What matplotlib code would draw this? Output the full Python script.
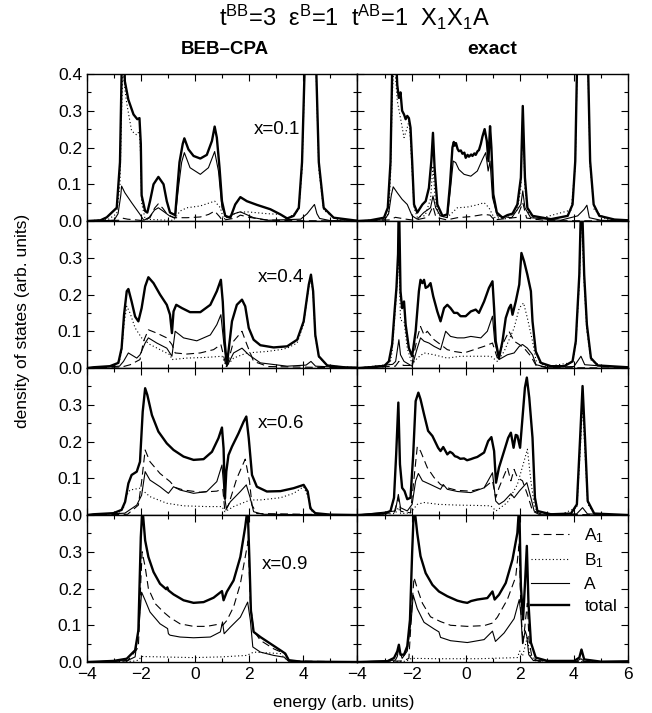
import numpy as np
import matplotlib

matplotlib.use("Agg")
import matplotlib.pyplot as plt
from matplotlib.lines import Line2D
from matplotlib.ticker import FuncFormatter, MultipleLocator

plt.rcParams["font.family"] = ["Liberation Sans", "DejaVu Sans"]
plt.rcParams["mathtext.fontset"] = "custom"
plt.rcParams["mathtext.rm"] = "Liberation Sans"
plt.rcParams["mathtext.it"] = "Liberation Sans:italic"
plt.rcParams["mathtext.bf"] = "Liberation Sans:bold"

# ---- data: (energy, density of states) ----
concentrations = ["x=0.1", "x=0.4", "x=0.6", "x=0.9"]
legend_labels = ["A$_1$", "B$_1$", "A", "total"]

# BEB-CPA, x=0.1
beb_x01_A1 = [(-4, 0), (-2.8, 0.002), (-2.7, 0.008), (-2.5, 0.005), (-1.9, 0.001), (-1.67, 0.009), (-1.5, 0.035),
              (-1.36, 0.047), (-1.2, 0.035), (-1.05, 0.02), (-0.8, 0.009), (-0.3, 0.009), (0.19, 0.011), (0.5, 0.018),
              (0.72, 0.027), (0.9, 0.012), (1.0, 0.002), (1.5, 0.008), (1.67, 0.016), (2.0, 0.01), (2.6, 0.003),
              (3.5, 0.001), (6, 0)]
beb_x01_B1 = [(-4, 0), (-3.2, 0.005), (-2.9, 0.02), (-2.78, 0.1), (-2.72, 0.3), (-2.67, 0.42), (-2.6, 0.36),
              (-2.53, 0.32), (-2.35, 0.245), (-2.16, 0.234), (-2.06, 0.245), (-2.01, 0.17), (-1.98, 0.05),
              (-1.85, 0.005), (-1.3, 0.003), (-0.8, 0.002), (-0.56, 0.027), (-0.31, 0.036), (0.19, 0.041),
              (0.72, 0.054), (0.93, 0.036), (1.05, 0.005), (1.54, 0.023), (1.91, 0.025), (2.65, 0.02), (3.15, 0.018),
              (3.4, 0.005), (3.83, 0.03), (3.95, 0.14), (4.04, 0.38), (4.15, 0.85), (4.26, 1.4), (4.37, 0.85),
              (4.48, 0.38), (4.57, 0.14), (4.75, 0.03), (5.2, 0.005), (6, 0)]
beb_x01_A = [(-4, 0), (-3.0, 0.002), (-2.85, 0.02), (-2.75, 0.07), (-2.72, 0.095), (-2.6, 0.077), (-2.35, 0.05),
             (-2.04, 0.018), (-1.9, 0.002), (-1.7, 0.01), (-1.5, 0.03), (-1.36, 0.036), (-1.15, 0.025), (-0.93, 0.013),
             (-0.74, 0.009), (-0.62, 0.09), (-0.5, 0.16), (-0.4, 0.186), (-0.19, 0.145), (0.19, 0.127), (0.49, 0.145),
             (0.72, 0.189), (0.86, 0.136), (0.99, 0.036), (1.17, 0.009), (1.45, 0.02), (1.67, 0.025), (2.16, 0.009),
             (2.7, 0.002), (3.9, 0.005), (4.14, 0.02), (4.3, 0.035), (4.41, 0.045), (4.5, 0.02), (4.6, 0.007),
             (5.0, 0.001), (6, 0)]
beb_x01_tot = [(-4, 0), (-3.5, 0.002), (-3.27, 0.01), (-2.9, 0.036), (-2.78, 0.16), (-2.72, 0.4), (-2.67, 0.6),
               (-2.6, 0.38), (-2.47, 0.33), (-2.28, 0.29), (-2.14, 0.277), (-2.06, 0.28), (-2.01, 0.21),
               (-1.98, 0.07), (-1.85, 0.027), (-1.77, 0.023), (-1.67, 0.054), (-1.54, 0.1), (-1.36, 0.12),
               (-1.17, 0.1), (-1.05, 0.054), (-0.93, 0.023), (-0.74, 0.016), (-0.68, 0.07), (-0.58, 0.16),
               (-0.46, 0.21), (-0.4, 0.225), (-0.25, 0.195), (-0.06, 0.177), (0.19, 0.17), (0.43, 0.18),
               (0.62, 0.218), (0.72, 0.257), (0.8, 0.227), (0.9, 0.145), (0.99, 0.054), (1.11, 0.014), (1.3, 0.009),
               (1.48, 0.045), (1.67, 0.065), (1.91, 0.054), (2.28, 0.044), (2.78, 0.032), (3.15, 0.018),
               (3.4, 0.007), (3.64, 0.014), (3.83, 0.036), (3.95, 0.16), (4.04, 0.4), (4.15, 0.9), (4.26, 1.5),
               (4.37, 0.9), (4.48, 0.4), (4.57, 0.16), (4.75, 0.036), (5.12, 0.009), (5.86, 0.002), (6, 0.001)]

# exact, x=0.1
ex_x01_A1 = [(-4, 0), (-2.8, 0.003), (-2.6, 0.01), (-2.2, 0.005), (-1.9, 0.002), (-1.4, 0.01), (-1.21, 0.04),
             (-1.1, 0.01), (-0.7, 0.003), (-0.31, 0.009), (0.19, 0.012), (0.68, 0.018), (0.9, 0.016), (1.05, 0.003),
             (1.9, 0.01), (2.11, 0.05), (2.25, 0.008), (3.0, 0.001), (6, 0)]
ex_x01_B1 = [(-4, 0), (-3.0, 0.005), (-2.85, 0.02), (-2.78, 0.12), (-2.72, 0.33), (-2.66, 0.42), (-2.6, 0.4),
             (-2.53, 0.327), (-2.41, 0.28), (-2.28, 0.227), (-2.16, 0.254), (-2.1, 0.272), (-2.04, 0.22),
             (-1.98, 0.136), (-1.91, 0.036), (-1.79, 0.01), (-1.5, 0.015), (-1.3, 0.06), (-1.21, 0.15),
             (-1.13, 0.06), (-1.0, 0.015), (-0.7, 0.01), (-0.56, 0.018), (-0.31, 0.036), (0.06, 0.038),
             (0.43, 0.044), (0.68, 0.05), (0.86, 0.036), (1.04, 0.01), (1.5, 0.006), (1.91, 0.03), (2.04, 0.09),
             (2.11, 0.3), (2.19, 0.09), (2.3, 0.025), (2.6, 0.004), (3.9, 0.03), (4.05, 0.15), (4.11, 0.38),
             (4.2, 0.85), (4.32, 1.3), (4.44, 0.85), (4.53, 0.38), (4.6, 0.15), (4.75, 0.03), (5.2, 0.004), (6, 0)]
ex_x01_A = [(-4, 0), (-3.0, 0.003), (-2.85, 0.02), (-2.75, 0.07), (-2.68, 0.093), (-2.53, 0.077), (-2.35, 0.059),
            (-2.16, 0.045), (-1.98, 0.014), (-1.79, 0.005), (-1.55, 0.023), (-1.3, 0.036), (-1.21, 0.068),
            (-1.11, 0.036), (-0.93, 0.014), (-0.68, 0.009), (-0.56, 0.09), (-0.46, 0.163), (-0.37, 0.159),
            (-0.25, 0.14), (-0.06, 0.127), (0.19, 0.122), (0.43, 0.136), (0.62, 0.168), (0.74, 0.186),
            (0.83, 0.136), (0.9, 0.163), (0.99, 0.064), (1.17, 0.014), (1.7, 0.009), (2.04, 0.045), (2.11, 0.082),
            (2.19, 0.036), (2.4, 0.009), (3.5, 0.002), (4.14, 0.014), (4.38, 0.032), (4.48, 0.043), (4.57, 0.009),
            (5.0, 0.002), (6, 0)]
ex_x01_tot = [(-4, 0), (-3.52, 0.002), (-3.02, 0.009), (-2.88, 0.036), (-2.78, 0.16), (-2.72, 0.4), (-2.68, 0.55),
              (-2.64, 0.45), (-2.6, 0.5), (-2.56, 0.42), (-2.53, 0.37), (-2.47, 0.335), (-2.41, 0.35),
              (-2.35, 0.3), (-2.28, 0.29), (-2.22, 0.277), (-2.16, 0.286), (-2.1, 0.28), (-2.04, 0.254),
              (-1.98, 0.163), (-1.91, 0.045), (-1.79, 0.023), (-1.6, 0.045), (-1.48, 0.054), (-1.36, 0.09),
              (-1.27, 0.163), (-1.21, 0.24), (-1.15, 0.145), (-1.05, 0.045), (-0.86, 0.014), (-0.68, 0.018),
              (-0.58, 0.1), (-0.49, 0.2), (-0.44, 0.215), (-0.41, 0.205), (-0.36, 0.212), (-0.3, 0.196),
              (-0.25, 0.19), (-0.18, 0.192), (-0.12, 0.183), (-0.05, 0.186), (0.0, 0.172), (0.07, 0.18),
              (0.12, 0.175), (0.2, 0.181), (0.25, 0.177), (0.32, 0.184), (0.37, 0.18), (0.44, 0.19), (0.49, 0.193),
              (0.56, 0.21), (0.62, 0.23), (0.7, 0.25), (0.78, 0.218), (0.84, 0.163), (0.9, 0.258), (0.95, 0.2),
              (1.02, 0.073), (1.15, 0.023), (1.36, 0.009), (1.54, 0.016), (1.73, 0.02), (1.91, 0.045),
              (2.04, 0.118), (2.11, 0.313), (2.19, 0.118), (2.28, 0.036), (2.47, 0.014), (3.15, 0.005),
              (3.77, 0.014), (3.95, 0.045), (4.05, 0.163), (4.11, 0.4), (4.2, 0.9), (4.32, 1.4), (4.44, 0.9),
              (4.53, 0.4), (4.6, 0.163), (4.73, 0.045), (4.94, 0.014), (5.5, 0.004), (6, 0.002)]

# BEB-CPA, x=0.4
beb_x04_A1 = [(-4, 0), (-2.7, 0.003), (-2.4, 0.009), (-2.04, 0.023), (-1.91, 0.073), (-1.73, 0.104),
              (-1.42, 0.095), (-1.05, 0.082), (-0.86, 0.064), (-0.74, 0.041), (-0.31, 0.038), (0.19, 0.041),
              (0.68, 0.05), (0.95, 0.064), (1.1, 0.018), (1.17, 0.004), (1.42, 0.073), (1.73, 0.1), (1.91, 0.064),
              (2.16, 0.018), (2.7, 0.004), (6, 0)]
beb_x04_B1 = [(-4, 0), (-3.0, 0.005), (-2.8, 0.02), (-2.72, 0.045), (-2.63, 0.12), (-2.53, 0.168), (-2.41, 0.15),
              (-2.22, 0.109), (-1.98, 0.082), (-1.67, 0.064), (-1.3, 0.05), (-0.93, 0.036), (-0.86, 0.023),
              (-0.31, 0.027), (0.43, 0.029), (0.99, 0.032), (1.15, 0.004), (1.42, 0.027), (1.91, 0.041),
              (2.65, 0.045), (3.15, 0.05), (3.4, 0.054), (3.77, 0.068), (4.01, 0.12), (4.2, 0.22), (4.28, 0.245),
              (4.36, 0.2), (4.44, 0.085), (4.57, 0.03), (4.9, 0.006), (6, 0.001)]
beb_x04_A = [(-4, 0), (-2.8, 0.005), (-2.65, 0.018), (-2.47, 0.041), (-2.16, 0.027), (-2.04, 0.036),
             (-1.85, 0.068), (-1.73, 0.082), (-1.42, 0.068), (-1.05, 0.054), (-0.86, 0.032), (-0.74, 0.1),
             (-0.43, 0.082), (0.06, 0.074), (0.56, 0.09), (0.8, 0.118), (0.95, 0.145), (1.05, 0.073), (1.17, 0.004),
             (1.42, 0.041), (1.73, 0.054), (1.98, 0.036), (2.41, 0.014), (3.4, 0.005), (4.1, 0.008), (4.28, 0.018),
             (4.45, 0.005), (6, 0)]
beb_x04_tot = [(-4, 0), (-3.77, 0.002), (-3.15, 0.005), (-2.84, 0.014), (-2.72, 0.054), (-2.63, 0.145),
               (-2.53, 0.209), (-2.47, 0.215), (-2.35, 0.181), (-2.22, 0.14), (-2.1, 0.127), (-1.98, 0.163),
               (-1.85, 0.222), (-1.73, 0.247), (-1.54, 0.231), (-1.3, 0.2), (-1.05, 0.172), (-0.93, 0.145),
               (-0.86, 0.095), (-0.8, 0.154), (-0.7, 0.172), (-0.49, 0.163), (-0.19, 0.152), (0.19, 0.152),
               (0.56, 0.172), (0.8, 0.209), (0.95, 0.24), (1.02, 0.18), (1.09, 0.073), (1.17, 0.009), (1.23, 0.045),
               (1.36, 0.127), (1.54, 0.172), (1.73, 0.186), (1.85, 0.168), (1.98, 0.109), (2.16, 0.077),
               (2.41, 0.062), (2.9, 0.056), (3.4, 0.059), (3.77, 0.077), (4.01, 0.127), (4.2, 0.227), (4.28, 0.254),
               (4.36, 0.209), (4.44, 0.09), (4.57, 0.032), (4.88, 0.007), (5.5, 0.002), (6, 0.001)]

# exact, x=0.4
ex_x04_A1 = [(-4, 0), (-2.6, 0.005), (-2.47, 0.018), (-2.3, 0.007), (-2.0, 0.007), (-1.79, 0.082), (-1.67, 0.113),
             (-1.54, 0.09), (-1.42, 0.1), (-1.17, 0.077), (-0.93, 0.064), (-0.68, 0.05), (-0.43, 0.045),
             (-0.06, 0.041), (0.31, 0.05), (0.68, 0.059), (0.99, 0.068), (1.17, 0.027), (1.42, 0.073), (1.6, 0.1),
             (1.79, 0.073), (1.98, 0.064), (2.16, 0.054), (2.41, 0.032), (2.6, 0.007), (3.0, 0.001), (6, 0)]
ex_x04_B1 = [(-4, 0), (-2.8, 0.01), (-2.72, 0.045), (-2.59, 0.172), (-2.47, 0.3), (-2.41, 0.13), (-2.28, 0.127),
             (-2.16, 0.054), (-1.98, 0.01), (-1.79, 0.027), (-1.54, 0.041), (-1.17, 0.036), (-0.68, 0.027),
             (-0.19, 0.032), (0.43, 0.032), (0.93, 0.032), (1.17, 0.018), (1.42, 0.045), (1.79, 0.109),
             (1.98, 0.163), (2.14, 0.177), (2.28, 0.136), (2.47, 0.073), (2.6, 0.02), (3.0, 0.004), (3.95, 0.015),
             (4.07, 0.065), (4.2, 0.23), (4.28, 0.42), (4.38, 0.23), (4.48, 0.1), (4.63, 0.022), (5.0, 0.005),
             (6, 0.001)]
ex_x04_A = [(-4, 0), (-2.7, 0.01), (-2.59, 0.018), (-2.47, 0.077), (-2.41, 0.036), (-2.28, 0.018), (-1.98, 0.005),
            (-1.79, 0.054), (-1.67, 0.082), (-1.54, 0.073), (-1.36, 0.068), (-1.17, 0.059), (-0.93, 0.05),
            (-0.74, 0.1), (-0.56, 0.086), (-0.31, 0.082), (-0.06, 0.082), (0.19, 0.086), (0.56, 0.082), (0.8, 0.1),
            (0.99, 0.141), (1.07, 0.073), (1.23, 0.023), (1.54, 0.036), (1.79, 0.041), (1.98, 0.059), (2.1, 0.064),
            (2.28, 0.054), (2.47, 0.036), (2.6, 0.009), (3.0, 0.002), (4.0, 0.004), (4.26, 0.032), (4.4, 0.009),
            (6, 0)]
ex_x04_tot = [(-4, 0), (-3.52, 0.002), (-3.02, 0.005), (-2.84, 0.018), (-2.72, 0.064), (-2.62, 0.163),
              (-2.56, 0.218), (-2.5, 0.31), (-2.47, 0.48), (-2.41, 0.209), (-2.35, 0.163), (-2.28, 0.181),
              (-2.22, 0.118), (-2.1, 0.054), (-1.98, 0.032), (-1.85, 0.1), (-1.73, 0.209), (-1.67, 0.24),
              (-1.6, 0.231), (-1.54, 0.24), (-1.48, 0.218), (-1.39, 0.222), (-1.3, 0.231), (-1.2, 0.195),
              (-1.05, 0.154), (-0.93, 0.127), (-0.8, 0.163), (-0.68, 0.172), (-0.56, 0.163), (-0.43, 0.15),
              (-0.31, 0.15), (-0.19, 0.141), (0.0, 0.141), (0.19, 0.154), (0.37, 0.159), (0.49, 0.15),
              (0.68, 0.181), (0.86, 0.218), (0.99, 0.236), (1.05, 0.163), (1.11, 0.073), (1.23, 0.027),
              (1.36, 0.073), (1.48, 0.136), (1.6, 0.163), (1.67, 0.172), (1.73, 0.145), (1.85, 0.181),
              (1.98, 0.227), (2.06, 0.313), (2.16, 0.29), (2.28, 0.254), (2.41, 0.209), (2.47, 0.127),
              (2.59, 0.045), (2.78, 0.014), (3.15, 0.005), (3.64, 0.005), (3.95, 0.018), (4.07, 0.073),
              (4.2, 0.254), (4.28, 0.5), (4.38, 0.254), (4.48, 0.118), (4.63, 0.027), (4.88, 0.007), (6, 0.002)]

# BEB-CPA, x=0.6
beb_x06_A1 = [(-4, 0), (-2.5, 0.002), (-2.1, 0.027), (-1.98, 0.091), (-1.85, 0.177), (-1.67, 0.145), (-1.3, 0.113),
              (-0.93, 0.091), (-0.74, 0.075), (-0.43, 0.068), (0.19, 0.062), (0.8, 0.065), (1.02, 0.071),
              (1.1, 0.009), (1.23, 0.027), (1.54, 0.1), (1.85, 0.152), (2.01, 0.091), (2.1, 0.027), (2.28, 0.004),
              (6, 0)]
beb_x06_B1 = [(-4, 0), (-2.8, 0.005), (-2.65, 0.02), (-2.53, 0.054), (-2.41, 0.068), (-2.04, 0.073),
              (-1.67, 0.05), (-1.05, 0.032), (-0.43, 0.025), (0.43, 0.023), (0.99, 0.023), (1.1, 0.009),
              (1.42, 0.023), (2.04, 0.041), (2.41, 0.041), (3.15, 0.047), (3.64, 0.059), (4.01, 0.077), (4.2, 0.045),
              (4.32, 0.009), (4.6, 0.002), (6, 0)]
beb_x06_A = [(-4, 0), (-2.6, 0.005), (-2.16, 0.027), (-1.98, 0.054), (-1.85, 0.118), (-1.67, 0.095), (-1.3, 0.077),
             (-0.99, 0.059), (-0.8, 0.077), (-0.56, 0.068), (-0.06, 0.059), (0.43, 0.064), (0.8, 0.091),
             (0.99, 0.136), (1.08, 0.054), (1.15, 0.018), (1.3, 0.036), (1.67, 0.064), (1.89, 0.082), (2.04, 0.045),
             (2.16, 0.009), (2.5, 0.002), (6, 0)]
beb_x06_tot = [(-4, 0), (-3.77, 0.002), (-3.02, 0.005), (-2.72, 0.014), (-2.59, 0.036), (-2.47, 0.086),
               (-2.35, 0.109), (-2.16, 0.118), (-2.04, 0.145), (-1.94, 0.281), (-1.85, 0.345), (-1.77, 0.327),
               (-1.6, 0.272), (-1.36, 0.227), (-1.05, 0.195), (-0.8, 0.177), (-0.43, 0.159), (-0.06, 0.15),
               (0.31, 0.152), (0.62, 0.172), (0.86, 0.209), (0.99, 0.238), (1.05, 0.181), (1.1, 0.045),
               (1.15, 0.118), (1.23, 0.163), (1.36, 0.186), (1.6, 0.222), (1.79, 0.254), (1.89, 0.268),
               (1.98, 0.209), (2.1, 0.109), (2.28, 0.077), (2.65, 0.064), (3.15, 0.065), (3.64, 0.073),
               (4.01, 0.082), (4.16, 0.064), (4.26, 0.018), (4.44, 0.005), (5.0, 0.001), (6, 0)]

# exact, x=0.6
ex_x06_A1 = [(-4, 0), (-2.65, 0.006), (-2.49, 0.047), (-2.4, 0.01), (-2.04, 0.006), (-1.92, 0.093), (-1.79, 0.186),
             (-1.67, 0.174), (-1.42, 0.129), (-1.17, 0.102), (-0.93, 0.083), (-0.68, 0.074), (-0.31, 0.067),
             (0.19, 0.065), (0.68, 0.074), (0.99, 0.093), (1.11, 0.047), (1.23, 0.074), (1.54, 0.129),
             (1.67, 0.093), (1.79, 0.124), (1.91, 0.102), (2.1, 0.093), (2.28, 0.056), (2.47, 0.011), (2.7, 0.002),
             (6, 0)]
ex_x06_B1 = [(-4, 0), (-2.6, 0.004), (-2.49, 0.02), (-2.4, 0.004), (-2.04, 0.006), (-1.79, 0.029), (-1.54, 0.034),
             (-1.0, 0.029), (-0.31, 0.027), (0.43, 0.026), (0.93, 0.025), (1.12, 0.011), (1.54, 0.034),
             (1.91, 0.083), (2.16, 0.147), (2.28, 0.179), (2.41, 0.093), (2.53, 0.029), (2.65, 0.006), (3.5, 0.001),
             (4.11, 0.02), (4.23, 0.17), (4.32, 0.3), (4.41, 0.17), (4.51, 0.03), (4.75, 0.003), (6, 0)]
ex_x06_A = [(-4, 0), (-2.6, 0.011), (-2.49, 0.056), (-2.41, 0.02), (-2.16, 0.011), (-1.98, 0.029), (-1.85, 0.093),
            (-1.75, 0.113), (-1.6, 0.093), (-1.3, 0.083), (-0.93, 0.07), (-0.83, 0.083), (-0.68, 0.07),
            (-0.31, 0.064), (0.19, 0.061), (0.68, 0.074), (0.99, 0.115), (1.11, 0.038), (1.23, 0.029),
            (1.42, 0.038), (1.67, 0.058), (1.79, 0.047), (1.98, 0.065), (2.26, 0.088), (2.41, 0.047),
            (2.53, 0.011), (2.8, 0.002), (4.1, 0.003), (4.32, 0.02), (4.5, 0.003), (6, 0)]
ex_x06_tot = [(-4, 0), (-3.52, 0.002), (-3.02, 0.004), (-2.78, 0.011), (-2.65, 0.047), (-2.57, 0.165),
              (-2.49, 0.306), (-2.43, 0.138), (-2.35, 0.074), (-2.26, 0.065), (-2.16, 0.043), (-2.04, 0.047),
              (-1.94, 0.165), (-1.85, 0.31), (-1.75, 0.333), (-1.67, 0.315), (-1.54, 0.274), (-1.39, 0.229),
              (-1.23, 0.215), (-1.02, 0.183), (-0.93, 0.174), (-0.83, 0.185), (-0.68, 0.165), (-0.58, 0.172),
              (-0.49, 0.168), (-0.4, 0.16), (-0.31, 0.158), (-0.2, 0.153), (-0.06, 0.154), (0.05, 0.149),
              (0.19, 0.152), (0.3, 0.155), (0.43, 0.158), (0.68, 0.17), (0.83, 0.201), (0.95, 0.212), (1.05, 0.174),
              (1.12, 0.088), (1.23, 0.129), (1.42, 0.174), (1.57, 0.21), (1.67, 0.224), (1.77, 0.183),
              (1.85, 0.218), (1.91, 0.216), (2.01, 0.183), (2.1, 0.265), (2.19, 0.347), (2.26, 0.374),
              (2.35, 0.319), (2.47, 0.21), (2.56, 0.047), (2.65, 0.011), (3.15, 0.002), (3.89, 0.004),
              (4.11, 0.029), (4.23, 0.21), (4.32, 0.351), (4.41, 0.21), (4.51, 0.038), (4.75, 0.004), (6, 0)]

# BEB-CPA, x=0.9
beb_x09_A1 = [(-4, 0), (-2.5, 0.003), (-2.1, 0.04), (-2.01, 0.22), (-1.96, 0.3), (-1.85, 0.259), (-1.73, 0.2),
              (-1.48, 0.159), (-1.17, 0.136), (-0.93, 0.121), (-0.56, 0.104), (-0.06, 0.097), (0.43, 0.097),
              (0.8, 0.102), (1.02, 0.1), (1.17, 0.113), (1.42, 0.15), (1.67, 0.213), (1.85, 0.286), (1.96, 0.33),
              (2.04, 0.16), (2.16, 0.086), (2.41, 0.059), (2.9, 0.036), (3.3, 0.023), (3.5, 0.003), (6, 0)]
beb_x09_B1 = [(-4, 0), (-2.3, 0.002), (-2.1, 0.005), (-1.98, 0.015), (-1.3, 0.014), (-0.06, 0.012), (0.99, 0.014),
              (1.91, 0.018), (2.16, 0.027), (2.65, 0.025), (3.15, 0.023), (3.33, 0.009), (3.6, 0.001), (6, 0)]
beb_x09_A = [(-4, 0), (-2.5, 0.004), (-2.22, 0.014), (-2.06, 0.113), (-1.98, 0.19), (-1.85, 0.168), (-1.67, 0.136),
             (-1.3, 0.104), (-1.02, 0.091), (-0.99, 0.077), (-0.93, 0.073), (-0.56, 0.068), (-0.06, 0.066),
             (0.56, 0.068), (0.93, 0.082), (1.01, 0.109), (1.07, 0.077), (1.3, 0.095), (1.67, 0.122), (1.94, 0.163),
             (2.04, 0.113), (2.13, 0.041), (2.41, 0.027), (2.9, 0.018), (3.3, 0.013), (3.45, 0.002), (6, 0)]
beb_x09_tot = [(-4, 0), (-3.02, 0.003), (-2.53, 0.009), (-2.22, 0.032), (-2.1, 0.086), (-2.01, 0.34), (-1.95, 0.42),
               (-1.85, 0.331), (-1.73, 0.286), (-1.54, 0.245), (-1.3, 0.213), (-1.07, 0.198), (-1.03, 0.203),
               (-0.99, 0.195), (-0.8, 0.184), (-0.43, 0.168), (-0.06, 0.161), (0.31, 0.163), (0.68, 0.175),
               (0.99, 0.193), (1.05, 0.168), (1.17, 0.191), (1.42, 0.222), (1.67, 0.286), (1.85, 0.368),
               (1.94, 0.42), (2.01, 0.267), (2.06, 0.14), (2.16, 0.082), (2.41, 0.068), (2.78, 0.05), (3.15, 0.032),
               (3.33, 0.023), (3.46, 0.005), (3.9, 0.001), (6, 0)]

# exact, x=0.9
ex_x09_A1 = [(-4, 0), (-2.3, 0.003), (-2.1, 0.01), (-1.98, 0.16), (-1.91, 0.23), (-1.79, 0.2), (-1.6, 0.16),
             (-1.3, 0.123), (-0.93, 0.11), (-0.56, 0.1), (0.06, 0.097), (0.68, 0.099), (0.99, 0.106), (1.17, 0.122),
             (1.54, 0.17), (1.85, 0.232), (1.98, 0.325), (2.04, 0.14), (2.12, 0.05), (2.22, 0.12), (2.28, 0.16),
             (2.34, 0.06), (2.45, 0.012), (2.7, 0.002), (6, 0)]
ex_x09_B1 = [(-4, 0), (-2.2, 0.002), (-2.0, 0.01), (-1.0, 0.009), (0.5, 0.009), (1.91, 0.012), (2.0, 0.03),
             (2.1, 0.016), (2.22, 0.05), (2.28, 0.07), (2.36, 0.02), (2.6, 0.003), (6, 0)]
ex_x09_A = [(-4, 0), (-2.6, 0.005), (-2.53, 0.015), (-2.47, 0.038), (-2.35, 0.01), (-2.16, 0.03), (-2.01, 0.118),
            (-1.94, 0.182), (-1.79, 0.145), (-1.54, 0.108), (-1.17, 0.09), (-0.99, 0.082), (-0.93, 0.067),
            (-0.56, 0.058), (0.06, 0.053), (0.68, 0.061), (0.99, 0.084), (1.1, 0.056), (1.42, 0.079),
            (1.79, 0.118), (1.98, 0.17), (2.04, 0.13), (2.1, 0.05), (2.2, 0.085), (2.26, 0.07), (2.33, 0.02),
            (2.5, 0.004), (4.1, 0.002), (4.26, 0.009), (4.4, 0.001), (6, 0)]
ex_x09_tot = [(-4, 0), (-3.52, 0.001), (-2.9, 0.002), (-2.65, 0.011), (-2.53, 0.029), (-2.47, 0.047), (-2.41, 0.02),
              (-2.28, 0.02), (-2.16, 0.043), (-2.06, 0.115), (-1.98, 0.297), (-1.91, 0.43), (-1.79, 0.35),
              (-1.67, 0.288), (-1.48, 0.242), (-1.23, 0.21), (-0.99, 0.192), (-0.68, 0.179), (-0.31, 0.167),
              (-0.1, 0.163), (0.06, 0.161), (0.2, 0.166), (0.43, 0.17), (0.8, 0.174), (0.99, 0.192), (1.07, 0.17),
              (1.23, 0.183), (1.48, 0.215), (1.73, 0.279), (1.91, 0.351), (1.98, 0.43), (2.04, 0.207),
              (2.12, 0.116), (2.2, 0.225), (2.26, 0.316), (2.32, 0.161), (2.41, 0.053), (2.59, 0.012),
              (3.02, 0.003), (4.01, 0.003), (4.2, 0.012), (4.28, 0.034), (4.38, 0.007), (5.0, 0.001), (6, 0.002)]

beb_curves = [
    (beb_x01_A1, beb_x01_B1, beb_x01_A, beb_x01_tot),
    (beb_x04_A1, beb_x04_B1, beb_x04_A, beb_x04_tot),
    (beb_x06_A1, beb_x06_B1, beb_x06_A, beb_x06_tot),
    (beb_x09_A1, beb_x09_B1, beb_x09_A, beb_x09_tot),
]
exact_curves = [
    (ex_x01_A1, ex_x01_B1, ex_x01_A, ex_x01_tot),
    (ex_x04_A1, ex_x04_B1, ex_x04_A, ex_x04_tot),
    (ex_x06_A1, ex_x06_B1, ex_x06_A, ex_x06_tot),
    (ex_x09_A1, ex_x09_B1, ex_x09_A, ex_x09_tot),
]

# line styles for A1, B1, A, total
styles = [
    dict(color="k", lw=0.8, ls=(0, (7, 4))),
    dict(color="k", lw=0.8, ls=(0, (1, 2.2))),
    dict(color="k", lw=0.8, ls="-"),
    dict(color="k", lw=1.7, ls="-"),
]
label_xy = [(2.15, 0.25), (2.3, 0.245), (2.3, 0.25), (2.48, 0.265)]

fig, axes = plt.subplots(4, 2, figsize=(6.52, 7.13), dpi=100)
fig.subplots_adjust(left=0.1334, right=0.9632, bottom=0.0715, top=0.8962, wspace=0, hspace=0)


def xfmt(last_six):
    def f(v, pos):
        if v > 5 and not last_six:
            return ""
        return f"{v:.0f}".replace("-", "\u2212")
    return f


for row in range(4):
    for col in range(2):
        ax = axes[row, col]
        curves = beb_curves[row] if col == 0 else exact_curves[row]
        for pts, st in zip(curves, styles):
            e, d = np.array(pts, dtype=float).T
            ax.plot(e, d, **st)
        ax.set_xlim(-4, 6)
        ax.set_ylim(0, 0.4)
        ax.xaxis.set_major_locator(MultipleLocator(2))
        ax.xaxis.set_minor_locator(MultipleLocator(1))
        ax.yaxis.set_major_locator(MultipleLocator(0.1))
        ax.yaxis.set_minor_locator(MultipleLocator(0.05))
        ax.tick_params(which="both", direction="in", top=True, right=True, labelsize=12.5, width=0.8)
        ax.tick_params(which="major", length=5)
        ax.tick_params(which="minor", length=3)
        for sp in ax.spines.values():
            sp.set_linewidth(1.0)
        if row < 3:
            ax.tick_params(labelbottom=False)
        else:
            ax.xaxis.set_major_formatter(FuncFormatter(xfmt(col == 1)))
        if col == 1:
            ax.tick_params(labelleft=False)
        else:
            top = row == 0
            ax.yaxis.set_major_formatter(
                FuncFormatter(lambda v, p, top=top: f"{v:.1f}" if (v < 0.35 or top) else ""))
            ax.text(label_xy[row][0], label_xy[row][1], concentrations[row], fontsize=13.5, va="center")

fig.text(0.544, 0.976, "t$^{\\mathrm{BB}}$=3  \u03b5$^{\\mathrm{B}}$=1  t$^{\\mathrm{AB}}$=1  X$_1$X$_1$A",
         ha="center", va="center", fontsize=17)
fig.text(0.345, 0.9299, "BEB\u2013CPA", ha="center", va="center", fontsize=13.5, fontweight="bold")
fig.text(0.7546, 0.9299, "exact", ha="center", va="center", fontsize=14, fontweight="bold")
fig.text(0.034, 0.55, "density of states (arb. units)", rotation=90, ha="center", va="center", fontsize=12.5)
fig.text(0.527, 0.0154, "energy (arb. units)", ha="center", va="center", fontsize=12.5)

ax = axes[3, 1]
handles = [Line2D([], [], **st) for st in styles]
ax.legend(handles, legend_labels, loc="center left", bbox_to_anchor=(2.4, 0.25), bbox_transform=ax.transData,
          frameon=False, fontsize=12.5, handlelength=2.2, handletextpad=0.9, labelspacing=0.4,
          borderpad=0, borderaxespad=0)

fig.savefig("out.png", dpi=100)
